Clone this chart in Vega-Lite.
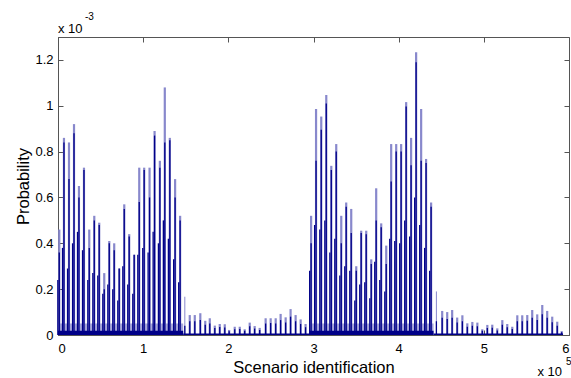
{
"$schema": "https://vega.github.io/schema/vega-lite/v6.json",
"width": 511, "height": 298,
"autosize": "none",
"padding": {"left": 58, "top": 37, "right": 2, "bottom": 43},
"config": {
  "view": {"stroke": "#555", "strokeWidth": 1},
  "font": "Liberation Sans",
  "axis": {"grid": false, "domainColor": "#555", "tickColor": "#555", "labelColor": "#000", "titleColor": "#000", "labelFont": "Liberation Sans", "titleFont": "Liberation Sans", "labelFontSize": 13, "titleFontSize": 16.5, "titleFontWeight": "normal", "tickSize": -5}
},
"datasets": {
  "peaks": [
    {"s":1500,"h":0.00046,"d":0.00036},{"s":7000,"h":0.00086,"d":0.00084},{"s":12900,"h":0.00084,"d":0.00068},{"s":18800,"h":0.00092,"d":0.00088},{"s":24600,"h":0.00065,"d":0.0006},
    {"s":30500,"h":0.00073,"d":0.00072},{"s":36700,"h":0.00046,"d":0.00038},{"s":42600,"h":0.00052,"d":0.0005},{"s":48400,"h":0.00049,"d":0.00048},{"s":54300,"h":0.00027,"d":0.0002},
    {"s":60200,"h":0.00041,"d":0.0004},{"s":66000,"h":0.0004,"d":0.00037},{"s":71900,"h":0.00029,"d":0.00029},{"s":77800,"h":0.00057,"d":0.00055},{"s":83600,"h":0.00044,"d":0.00043},
    {"s":89500,"h":0.00035,"d":0.00035},{"s":95400,"h":0.00073,"d":0.00058},{"s":101200,"h":0.00073,"d":0.00072},{"s":107500,"h":0.00073,"d":0.0006},{"s":113400,"h":0.00089,"d":0.00087},
    {"s":119600,"h":0.00076,"d":0.00073},{"s":125400,"h":0.00108,"d":0.00084},{"s":131300,"h":0.00086,"d":0.00085},{"s":137500,"h":0.00068,"d":0.0006},{"s":143400,"h":0.00052,"d":0.0005},
    {"s":154700,"h":0.000087,"d":0.00006},{"s":160600,"h":0.000087,"d":0.00006},{"s":167100,"h":0.000095,"d":0.000065},{"s":172900,"h":0.000062,"d":0.000045},{"s":178200,"h":0.000073,"d":0.00005},
    {"s":184100,"h":0.000041,"d":0.00003},{"s":189900,"h":0.000048,"d":0.000035},{"s":195800,"h":0.000047,"d":0.000033},{"s":201000,"h":0.000022,"d":0.000016},{"s":207500,"h":0.000036,"d":0.000025},
    {"s":213400,"h":0.000036,"d":0.000026},{"s":219200,"h":0.000025,"d":0.000018},{"s":225100,"h":0.000054,"d":0.000038},{"s":230900,"h":0.000039,"d":0.000028},{"s":236800,"h":0.000031,"d":0.000022},
    {"s":243800,"h":0.000073,"d":0.00005},{"s":249700,"h":0.000073,"d":0.000052},{"s":255600,"h":0.000073,"d":0.00005},{"s":261400,"h":0.000092,"d":0.000065},{"s":267300,"h":0.000077,"d":0.000055},
    {"s":273100,"h":0.000113,"d":0.00008},{"s":279000,"h":0.000087,"d":0.00006},{"s":284900,"h":0.000068,"d":0.000048},{"s":290700,"h":0.000048,"d":0.000034},
    {"s":297200,"h":0.00052,"d":0.0004},{"s":303000,"h":0.000986,"d":0.00076},{"s":309100,"h":0.000953,"d":0.000895},{"s":315000,"h":0.001047,"d":0.00101},{"s":320900,"h":0.000738,"d":0.00072},
    {"s":326700,"h":0.000833,"d":0.0008},{"s":332600,"h":0.00052,"d":0.0004},{"s":338400,"h":0.000578,"d":0.00056},{"s":344300,"h":0.00055,"d":0.000445},{"s":350200,"h":0.0003,"d":0.00028},
    {"s":356000,"h":0.000455,"d":0.000445},{"s":361900,"h":0.000455,"d":0.00044},{"s":367800,"h":0.00033,"d":0.00031},{"s":373600,"h":0.00064,"d":0.0005},{"s":379500,"h":0.000487,"d":0.00047},
    {"s":385400,"h":0.00039,"d":0.00031},{"s":391200,"h":0.000833,"d":0.00067},{"s":397100,"h":0.000833,"d":0.0008},{"s":402900,"h":0.000833,"d":0.0008},{"s":408800,"h":0.001016,"d":0.000997},
    {"s":414600,"h":0.00086,"d":0.00074},{"s":420500,"h":0.001233,"d":0.00119},{"s":426400,"h":0.000986,"d":0.00076},{"s":432200,"h":0.000768,"d":0.00075},{"s":438100,"h":0.000578,"d":0.00056},
    {"s":451100,"h":0.000105,"d":0.000075},{"s":457000,"h":0.0001,"d":0.00007},{"s":462800,"h":0.000109,"d":0.000075},{"s":468700,"h":0.000076,"d":0.000055},{"s":474800,"h":0.000086,"d":0.00006},
    {"s":480600,"h":0.000051,"d":0.000036},{"s":486500,"h":0.000057,"d":0.00004},{"s":492400,"h":0.000054,"d":0.000038},{"s":498200,"h":0.000025,"d":0.000018},{"s":504100,"h":0.000044,"d":0.00003},
    {"s":509900,"h":0.000045,"d":0.000032},{"s":515800,"h":0.000029,"d":0.00002},{"s":521700,"h":0.000065,"d":0.000045},{"s":527500,"h":0.000048,"d":0.000034},{"s":533400,"h":0.000036,"d":0.000026},
    {"s":539300,"h":0.000086,"d":0.00006},{"s":545100,"h":0.000086,"d":0.00006},{"s":551000,"h":0.000087,"d":0.000062},{"s":556800,"h":0.000109,"d":0.000075},{"s":562700,"h":0.00009,"d":0.000065},
    {"s":568600,"h":0.000131,"d":0.00009},{"s":574400,"h":0.000105,"d":0.000075},{"s":580300,"h":0.00008,"d":0.000056},{"s":586200,"h":0.000058,"d":0.00004},{"s":591400,"h":0.000017,"d":0.000012}
  ],
  "sec": [
    {"s":-200,"p":0.00024},{"s":5300,"p":0.00038},{"s":11200,"p":0.00029},{"s":17100,"p":0.0004},{"s":22900,"p":0.00045},
    {"s":28800,"p":0.00037},{"s":35000,"p":0.00024},{"s":40900,"p":0.00027},{"s":46700,"p":0.00026},{"s":52600,"p":0.00018},
    {"s":58500,"p":0.00022},{"s":64300,"p":0.0002},{"s":70200,"p":0.00015},{"s":76100,"p":0.0003},{"s":81900,"p":0.00022},
    {"s":87800,"p":0.00018},{"s":93700,"p":0.00035},{"s":99500,"p":0.00038},{"s":105800,"p":0.00036},{"s":111700,"p":0.00045},
    {"s":117900,"p":0.0004},{"s":123700,"p":0.0005},{"s":129600,"p":0.00042},{"s":135800,"p":0.00033},{"s":141700,"p":0.00023},
    {"s":148900,"p":0.00004},{"s":444300,"p":0.00006},
    {"s":295500,"p":0.00028},{"s":301300,"p":0.00048},{"s":307400,"p":0.00046},{"s":313300,"p":0.0005},{"s":319200,"p":0.00036},
    {"s":325000,"p":0.00042},{"s":330900,"p":0.00026},{"s":336700,"p":0.0003},{"s":342600,"p":0.00028},{"s":348500,"p":0.00015},
    {"s":354300,"p":0.00022},{"s":360200,"p":0.00023},{"s":366100,"p":0.00016},{"s":371900,"p":0.00032},{"s":377800,"p":0.00024},
    {"s":383700,"p":0.00019},{"s":389500,"p":0.00042},{"s":395400,"p":0.00041},{"s":401200,"p":0.0004},{"s":407100,"p":0.0005},
    {"s":412900,"p":0.00043},{"s":418800,"p":0.0006},{"s":424700,"p":0.00048},{"s":430500,"p":0.00038},{"s":436400,"p":0.00028}
  ],
  "thin": [
    {"s":148900,"p":0.000167},{"s":444300,"p":0.00019}
  ],
  "bands": [
    {"a":0,"b":147000,"lo":0.00005,"hi":0.000018},
    {"a":147000,"b":295000,"lo":0,"hi":0.000006},
    {"a":295000,"b":441000,"lo":0.00005,"hi":0.000018},
    {"a":441000,"b":593000,"lo":0,"hi":0.000006}
  ]
},
"layer": [
  {
    "data": {"name": "bands"},
    "mark": {"type": "rect", "color": "#8585cc", "opacity": 0.7},
    "encoding": {
      "x": {"field": "a", "type": "quantitative", "scale": {"domain": [0, 600000], "nice": false}, "axis": {"orient": "bottom", "values": [0,100000,200000,300000,400000,500000,600000], "labelExpr": "format(datum.value/100000, 'd')", "labelPadding": 12, "title": "Scenario identification", "titlePadding": 4}},
      "x2": {"field": "b"},
      "y": {"field": "lo", "type": "quantitative", "scale": {"domain": [0, 0.0013], "nice": false}, "axis": {"orient": "left", "values": [0,0.0002,0.0004,0.0006,0.0008,0.001,0.0012], "labelExpr": "format(datum.value*1000, '.1~f')", "labelPadding": 10, "title": "Probability", "titlePadding": 3}},
      "y2": {"datum": 0}
    }
  },
  {
    "data": {"name": "peaks"},
    "mark": {"type": "rule", "color": "#8888cc", "strokeWidth": 2.2},
    "encoding": {
      "x": {"field": "s", "type": "quantitative", "axis": {"orient": "top", "values": [0,100000,200000,300000,400000,500000,600000], "labels": false, "domain": false, "title": null}},
      "y": {"field": "h", "type": "quantitative", "axis": {"orient": "right", "values": [0,0.0002,0.0004,0.0006,0.0008,0.001,0.0012], "labels": false, "domain": false, "title": null}},
      "y2": {"datum": 0}
    }
  },
  {
    "data": {"name": "thin"},
    "mark": {"type": "rule", "color": "#8888cc", "strokeWidth": 1},
    "encoding": {
      "x": {"field": "s", "type": "quantitative", "axis": null},
      "y": {"field": "p", "type": "quantitative", "axis": null},
      "y2": {"datum": 0}
    }
  },
  {
    "data": {"name": "peaks"},
    "mark": {"type": "rule", "color": "#000088", "strokeWidth": 1.3},
    "encoding": {
      "x": {"field": "s", "type": "quantitative", "axis": null},
      "y": {"field": "d", "type": "quantitative", "axis": null},
      "y2": {"datum": 0}
    }
  },
  {
    "data": {"name": "sec"},
    "mark": {"type": "rule", "color": "#000088", "strokeWidth": 1.3},
    "encoding": {
      "x": {"field": "s", "type": "quantitative", "axis": null},
      "y": {"field": "p", "type": "quantitative", "axis": null},
      "y2": {"datum": 0}
    }
  },
  {
    "data": {"name": "bands"},
    "mark": {"type": "rect", "color": "#000088"},
    "encoding": {
      "x": {"field": "a", "type": "quantitative", "axis": null},
      "x2": {"field": "b"},
      "y": {"field": "hi", "type": "quantitative", "axis": null},
      "y2": {"datum": 0}
    }
  },
  {
    "data": {"values": [{"s": 0, "p": 0.0013, "t": "x 10"}]},
    "mark": {"type": "text", "align": "left", "baseline": "middle", "dy": -8, "fontSize": 13, "font": "Liberation Sans", "color": "#000"},
    "encoding": {"x": {"field": "s", "type": "quantitative", "axis": null}, "y": {"field": "p", "type": "quantitative", "axis": null}, "text": {"field": "t"}}
  },
  {
    "data": {"values": [{"s": 0, "p": 0.0013, "t": "-3"}]},
    "mark": {"type": "text", "align": "left", "baseline": "middle", "dx": 27, "dy": -20, "fontSize": 10, "font": "Liberation Sans", "color": "#000"},
    "encoding": {"x": {"field": "s", "type": "quantitative", "axis": null}, "y": {"field": "p", "type": "quantitative", "axis": null}, "text": {"field": "t"}}
  },
  {
    "data": {"values": [{"s": 600000, "p": 0, "t": "x 10"}]},
    "mark": {"type": "text", "align": "right", "baseline": "middle", "dx": -7, "dy": 37, "fontSize": 13, "font": "Liberation Sans", "color": "#000"},
    "encoding": {"x": {"field": "s", "type": "quantitative", "axis": null}, "y": {"field": "p", "type": "quantitative", "axis": null}, "text": {"field": "t"}}
  },
  {
    "data": {"values": [{"s": 600000, "p": 0, "t": "5"}]},
    "mark": {"type": "text", "align": "left", "baseline": "middle", "dx": -3, "dy": 27, "fontSize": 10, "font": "Liberation Sans", "color": "#000"},
    "encoding": {"x": {"field": "s", "type": "quantitative", "axis": null}, "y": {"field": "p", "type": "quantitative", "axis": null}, "text": {"field": "t"}}
  }
],
"resolve": {"axis": {"x": "independent", "y": "independent"}}
}
